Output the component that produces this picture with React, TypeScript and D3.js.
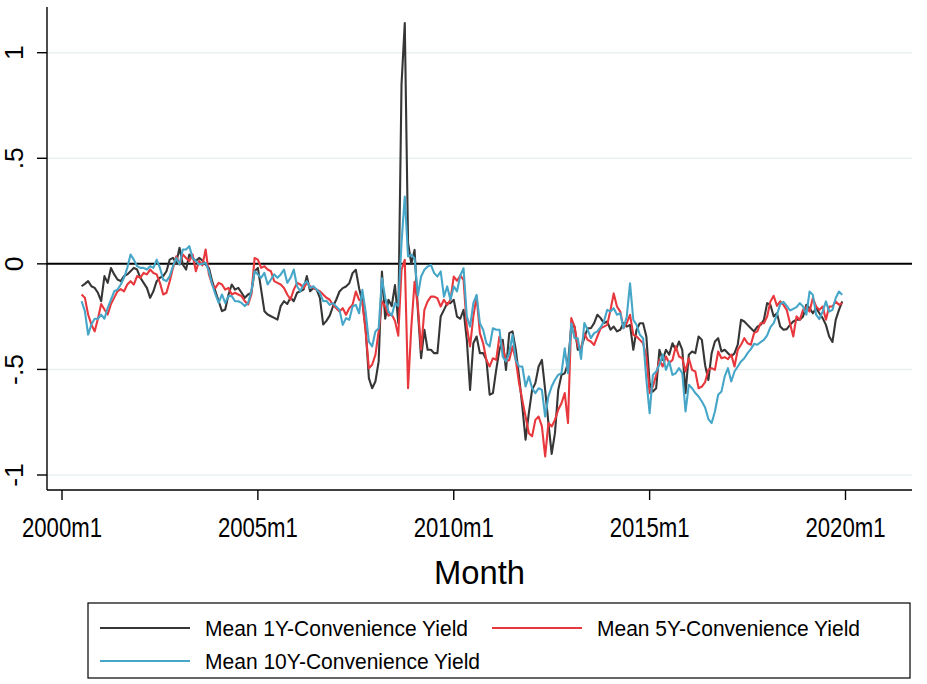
import React from "react";
import * as d3 from "d3";

// Monthly series, first observation = 2000m7 (month index 6, 0 = 2000m1)
const FIRST_MONTH = 6;

const cy1: number[] = [
  -0.106, -0.095, -0.082, -0.106, -0.114, -0.137, -0.177, -0.058, -0.09, -0.02,
  -0.05, -0.074, -0.082, -0.058, -0.05, -0.035, -0.019, -0.027, -0.066, -0.09,
  -0.114, -0.161, -0.13, -0.082, -0.066, -0.058, -0.035, 0.02, 0.028, 0.005,
  0.076, -0.003, -0.027, 0.044, 0.028, 0.013, 0.028, 0.016, -0.003, -0.019,
  -0.082, -0.13, -0.177, -0.224, -0.216, -0.145, -0.098, -0.122, -0.114, -0.137,
  -0.161, -0.145, -0.137, -0.035, -0.019, -0.122, -0.224, -0.24, -0.248, -0.256,
  -0.264, -0.2, -0.177, -0.19, -0.16, -0.177, -0.137, -0.13, -0.122, -0.058,
  -0.13, -0.114, -0.122, -0.161, -0.287, -0.27, -0.245, -0.202, -0.17, -0.131,
  -0.115, -0.107, -0.092, -0.044, -0.028, -0.115, -0.178, -0.305, -0.541, -0.589,
  -0.557, -0.462, -0.036, -0.26, -0.17, -0.2, -0.1, -0.28, 0.85, 1.14,
  0.1, 0.0, 0.066, -0.218, -0.447, -0.312, -0.407, -0.407, -0.423, -0.423,
  -0.249, -0.218, -0.186, -0.186, -0.17, -0.25, -0.26, -0.218, -0.36, -0.597,
  -0.376, -0.344, -0.423, -0.423, -0.455, -0.62, -0.612, -0.502, -0.407, -0.36,
  -0.502, -0.328, -0.32, -0.407, -0.533, -0.675, -0.833, -0.707, -0.597, -0.565,
  -0.486, -0.455, -0.597, -0.754, -0.9, -0.802, -0.597, -0.526, -0.518, -0.47,
  -0.297, -0.297, -0.407, -0.4, -0.35, -0.305, -0.305, -0.281, -0.241, -0.257,
  -0.281, -0.273, -0.312, -0.297, -0.32, -0.312, -0.281, -0.297, -0.289, -0.407,
  -0.312, -0.281, -0.281, -0.344, -0.565, -0.605, -0.589, -0.407, -0.455, -0.407,
  -0.43, -0.376, -0.407, -0.368, -0.407, -0.612, -0.43, -0.415, -0.423, -0.344,
  -0.36, -0.48, -0.55, -0.423, -0.368, -0.352, -0.415, -0.407, -0.423, -0.439,
  -0.423, -0.383, -0.265, -0.273, -0.289, -0.305, -0.32, -0.297, -0.289, -0.265,
  -0.186, -0.194, -0.249, -0.234, -0.297, -0.312, -0.309, -0.289, -0.273, -0.265,
  -0.265, -0.249, -0.194, -0.21, -0.234, -0.21, -0.234, -0.257, -0.289, -0.344,
  -0.37, -0.265, -0.218, -0.178,
];

const cy5: number[] = [
  -0.145, -0.16, -0.24, -0.287, -0.32, -0.26, -0.19, -0.216, -0.24, -0.19,
  -0.16, -0.13, -0.12, -0.13, -0.098, -0.082, -0.098, -0.058, -0.066, -0.043,
  -0.05, -0.027, -0.043, -0.05, -0.09, -0.145, -0.137, -0.082, -0.019, 0.036,
  -0.003, 0.044, 0.028, 0.013, 0.044, -0.035, 0.013, -0.007, 0.068, -0.05,
  -0.098, -0.114, -0.09, -0.098, -0.122, -0.114, -0.145, -0.137, -0.145, -0.153,
  -0.177, -0.193, -0.145, 0.028, 0.02, -0.019, -0.011, -0.027, -0.035, -0.082,
  -0.09, -0.098, -0.114, -0.145, -0.169, -0.122, -0.09, -0.098, -0.114, -0.09,
  -0.106, -0.114, -0.122, -0.13, -0.145, -0.16, -0.17, -0.194, -0.21, -0.226,
  -0.21, -0.241, -0.21, -0.194, -0.131, -0.17, -0.178, -0.32, -0.494, -0.478,
  -0.431, -0.32, -0.178, -0.202, -0.245, -0.24, -0.27, -0.34, -0.028, 0.019,
  -0.589, -0.3, -0.085, -0.2, -0.407, -0.218, -0.178, -0.155, -0.155, -0.163,
  -0.202, -0.17, -0.194, -0.17, -0.06, -0.08, -0.055, -0.076, -0.297, -0.391,
  -0.249, -0.155, -0.328, -0.376, -0.455, -0.486, -0.447, -0.455, -0.344, -0.391,
  -0.462, -0.455, -0.391, -0.455, -0.565, -0.644, -0.723, -0.802, -0.817, -0.739,
  -0.723, -0.77, -0.912, -0.754, -0.77, -0.739, -0.691, -0.66, -0.612, -0.754,
  -0.257, -0.297, -0.391, -0.4, -0.33, -0.36, -0.368, -0.384, -0.344, -0.305,
  -0.297, -0.289, -0.22, -0.14, -0.202, -0.226, -0.305, -0.281, -0.241, -0.336,
  -0.344, -0.36, -0.376, -0.439, -0.612, -0.581, -0.526, -0.455, -0.486, -0.439,
  -0.47, -0.455, -0.391, -0.439, -0.447, -0.51, -0.447, -0.502, -0.51, -0.589,
  -0.581, -0.56, -0.5, -0.494, -0.502, -0.415, -0.447, -0.442, -0.451, -0.43,
  -0.486, -0.407, -0.383, -0.352, -0.376, -0.383, -0.328, -0.32, -0.281, -0.281,
  -0.249, -0.178, -0.151, -0.199, -0.178, -0.194, -0.218, -0.281, -0.344, -0.249,
  -0.265, -0.218, -0.205, -0.226, -0.162, -0.202, -0.218, -0.202, -0.265, -0.202,
  -0.202, -0.178, -0.194, -0.186,
];

const cy10: number[] = [
  -0.177, -0.224, -0.335, -0.287, -0.26, -0.26, -0.24, -0.26, -0.208, -0.169,
  -0.13, -0.122, -0.098, -0.066, -0.019, 0.044, 0.02, -0.011, -0.019, -0.019,
  -0.027, -0.011, -0.019, 0.02, -0.019, -0.074, -0.082, -0.058, -0.011, 0.028,
  -0.003, 0.068, 0.068, 0.084, 0.028, 0.013, -0.003, 0.0, 0.005, -0.035,
  -0.098, -0.145, -0.185, -0.145, -0.185, -0.153, -0.153, -0.177, -0.177, -0.185,
  -0.2, -0.185, -0.13, -0.035, -0.05, -0.066, -0.043, -0.098, -0.074, -0.05,
  -0.066, -0.05, -0.027, -0.09, -0.066, -0.027, -0.106, -0.13, -0.098, -0.082,
  -0.114, -0.106, -0.122, -0.137, -0.177, -0.175, -0.194, -0.186, -0.202, -0.218,
  -0.289, -0.257, -0.265, -0.202, -0.194, -0.234, -0.123, -0.226, -0.368, -0.391,
  -0.32, -0.305, -0.068, -0.16, -0.225, -0.245, -0.186, -0.2, 0.1, 0.319,
  0.035, 0.043, 0.027, -0.15, -0.06, -0.028, -0.013, -0.005, -0.044, -0.06,
  -0.036, -0.155, -0.107, -0.17, -0.107, -0.13, -0.055, -0.021, -0.249, -0.297,
  -0.186, -0.147, -0.281, -0.312, -0.376, -0.391, -0.305, -0.312, -0.312, -0.439,
  -0.462, -0.423, -0.336, -0.455, -0.486, -0.486, -0.581, -0.533, -0.589, -0.612,
  -0.589, -0.597, -0.723, -0.628, -0.581, -0.549, -0.526, -0.518, -0.4, -0.518,
  -0.281, -0.352, -0.352, -0.45, -0.28, -0.312, -0.352, -0.328, -0.32, -0.3,
  -0.273, -0.218, -0.226, -0.21, -0.241, -0.234, -0.305, -0.249, -0.092, -0.265,
  -0.289, -0.336, -0.352, -0.549, -0.707, -0.526, -0.51, -0.478, -0.43, -0.502,
  -0.462, -0.526, -0.518, -0.494, -0.518, -0.699, -0.573, -0.589, -0.612, -0.628,
  -0.652, -0.68, -0.735, -0.754, -0.699, -0.62, -0.605, -0.533, -0.494, -0.557,
  -0.51, -0.486, -0.462, -0.447, -0.423, -0.404, -0.379, -0.383, -0.371, -0.36,
  -0.339, -0.3, -0.281, -0.241, -0.191, -0.18, -0.199, -0.221, -0.213, -0.205,
  -0.186, -0.202, -0.241, -0.131, -0.147, -0.241, -0.262, -0.226, -0.178, -0.226,
  -0.218, -0.162, -0.131, -0.147,
];

const xTickValues = [0, 60, 120, 180, 240];
const xTickLabels = ["2000m1", "2005m1", "2010m1", "2015m1", "2020m1"];
const yTickValues = [-1, -0.5, 0, 0.5, 1];
const yTickLabels = ["-1", "-.5", "0", ".5", "1"];
const gridValues = [-1, -0.5, 0.5, 1];

const seriesNames = [
  "Mean 1Y-Convenience Yield",
  "Mean 5Y-Convenience Yield",
  "Mean 10Y-Convenience Yield",
];
const seriesColors = ["#363636", "#e8383d", "#46a6c8"];
const seriesData = [cy1, cy5, cy10];

const FONT = "'Liberation Sans', Arial, Helvetica, sans-serif";

export default function App() {
  const W = 927;
  const H = 684;
  const plotLeft = 47;
  const plotRight = 912;
  const plotTop = 7;
  const plotBottom = 490;

  const x = d3.scaleLinear().domain([0, 240]).range([62, 845.5]);
  const y = d3.scaleLinear().domain([-1, 1]).range([475, 52.7]);

  const line = d3
    .line<number>()
    .x((_, i) => x(FIRST_MONTH + i))
    .y((d) => y(d))
    .curve(d3.curveLinear);

  const legendItems = [
    { name: seriesNames[0], color: seriesColors[0], lx: 100, ly: 628, tl: 263 },
    { name: seriesNames[1], color: seriesColors[1], lx: 492, ly: 628, tl: 263 },
    { name: seriesNames[2], color: seriesColors[2], lx: 100, ly: 661, tl: 275 },
  ];

  return (
    <svg
      width={W}
      height={H}
      viewBox={`0 0 ${W} ${H}`}
      style={{ position: "absolute", left: 0, top: 0, background: "#fff" }}
      fontFamily={FONT}
    >
      <rect x={0} y={0} width={W} height={H} fill="#ffffff" />
      {gridValues.map((g) => (
        <line
          key={"g" + g}
          x1={plotLeft}
          x2={plotRight}
          y1={y(g)}
          y2={y(g)}
          stroke="#eaf1f3"
          strokeWidth={1.6}
        />
      ))}
      <line x1={plotLeft} x2={plotRight} y1={y(0)} y2={y(0)} stroke="#000" strokeWidth={2} />
      {seriesData.map((s, k) => (
        <path
          key={"s" + k}
          d={line(s) || ""}
          fill="none"
          stroke={seriesColors[k]}
          strokeWidth={2.1}
          strokeLinejoin="round"
        />
      ))}
      <line x1={plotLeft} x2={plotLeft} y1={plotTop} y2={plotBottom} stroke="#000" strokeWidth={1.4} />
      <line x1={plotLeft} x2={plotRight} y1={plotBottom} y2={plotBottom} stroke="#000" strokeWidth={1.4} />
      {yTickValues.map((v, i) => (
        <g key={"yt" + i}>
          <line x1={37} x2={plotLeft} y1={y(v)} y2={y(v)} stroke="#000" strokeWidth={1.4} />
          <text
            transform={`translate(22.5,${y(v)}) rotate(-90)`}
            textAnchor="middle"
            fontSize={26.5}
            fill="#000"
          >
            {yTickLabels[i]}
          </text>
        </g>
      ))}
      {xTickValues.map((v, i) => (
        <g key={"xt" + i}>
          <line x1={x(v)} x2={x(v)} y1={plotBottom} y2={plotBottom + 10} stroke="#000" strokeWidth={1.4} />
          <text
            x={x(v)}
            y={537}
            textAnchor="middle"
            fontSize={27}
            textLength={80}
            lengthAdjust="spacingAndGlyphs"
            fill="#000"
          >
            {xTickLabels[i]}
          </text>
        </g>
      ))}
      <text
        x={(plotLeft + plotRight) / 2}
        y={584}
        textAnchor="middle"
        fontSize={33}
        textLength={91}
        lengthAdjust="spacingAndGlyphs"
        fill="#000"
      >
        Month
      </text>
      <rect x={88} y={603} width={822} height={75} fill="#fff" stroke="#000" strokeWidth={1.2} />
      {legendItems.map((it, i) => (
        <g key={"l" + i}>
          <line x1={it.lx} x2={it.lx + 90} y1={it.ly} y2={it.ly} stroke={it.color} strokeWidth={2} />
          <text
            x={it.lx + 105}
            y={it.ly + 7.5}
            fontSize={21.5}
            textLength={it.tl}
            lengthAdjust="spacingAndGlyphs"
            fill="#000"
          >
            {it.name}
          </text>
        </g>
      ))}
    </svg>
  );
}
